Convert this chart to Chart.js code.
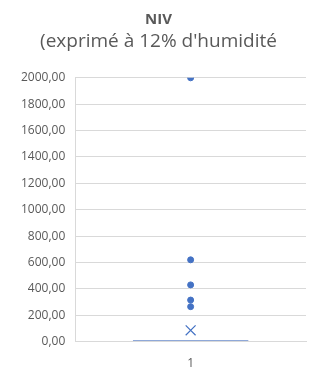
<!DOCTYPE html>
<html><head><meta charset="utf-8">
<script src="https://cdn.jsdelivr.net/npm/chart.js@4/dist/chart.umd.min.js"></script>
<style>html,body{margin:0;padding:0;background:#fff}#wrap{width:315px;height:369px}</style>
</head><body><div id="wrap"><canvas id="c" width="315" height="369"></canvas></div>
<script>
const categories = ['1'];
const outliers = [2000, 620, 430, 315, 265];
const meanValue = [86];
const boxRange = [0, 10];
const yTicks = [0, 200, 400, 600, 800, 1000, 1200, 1400, 1600, 1800, 2000];

const grey = '#595959';
const blue = '#4472C4';
new Chart(document.getElementById('c'), {
  type: 'bar',
  data: {
    labels: categories,
    datasets: [
      { type: 'bar', data: [boxRange], backgroundColor: '#6a8bcb', borderWidth: 0, barPercentage: 0.625, categoryPercentage: 0.8, order: 3 },
      { type: 'line', data: outliers.map(v => ({x: categories[0], y: v})), showLine: false, pointRadius: 3, pointBackgroundColor: blue, pointBorderColor: blue, order: 1 },
      { type: 'line', data: meanValue.map(v => ({x: categories[0], y: v})), showLine: false, pointStyle: 'crossRot', pointRadius: 7, pointBorderColor: blue, pointBorderWidth: 1.2, order: 2 }
    ]
  },
  options: {
    responsive: false, animation: false,
    layout: { padding: { left: 11, right: 9, top: 0, bottom: -17 } },
    plugins: {
      legend: { display: false }, tooltip: { enabled: false },
      title: { display: true, text: 'NIV', color: grey, font: { family: 'Open Sans', size: 15, weight: 'bold' }, padding: { top: 11, bottom: 1 } },
      subtitle: { display: true, text: "(exprimé à 12% d'humidité", color: grey, font: { family: 'Open Sans', size: 19 }, padding: { top: 0, bottom: 25 } }
    },
    scales: {
      x: { grid: { display: false, drawTicks: false }, border: { color: '#d9d9d9' }, ticks: { color: grey, font: { family: 'Open Sans', size: 12 }, padding: 15 } },
      y: { min: 0, max: 2000, afterBuildTicks: ax => { ax.ticks = yTicks.map(v => ({value: v})); },
           grid: { color: '#d9d9d9', drawTicks: false }, border: { color: '#d9d9d9' },
           ticks: { color: grey, font: { family: 'Open Sans', size: 12 }, padding: 10, callback: v => v.toFixed(2).replace('.', ',') } }
    }
  }
});
</script></body></html>
